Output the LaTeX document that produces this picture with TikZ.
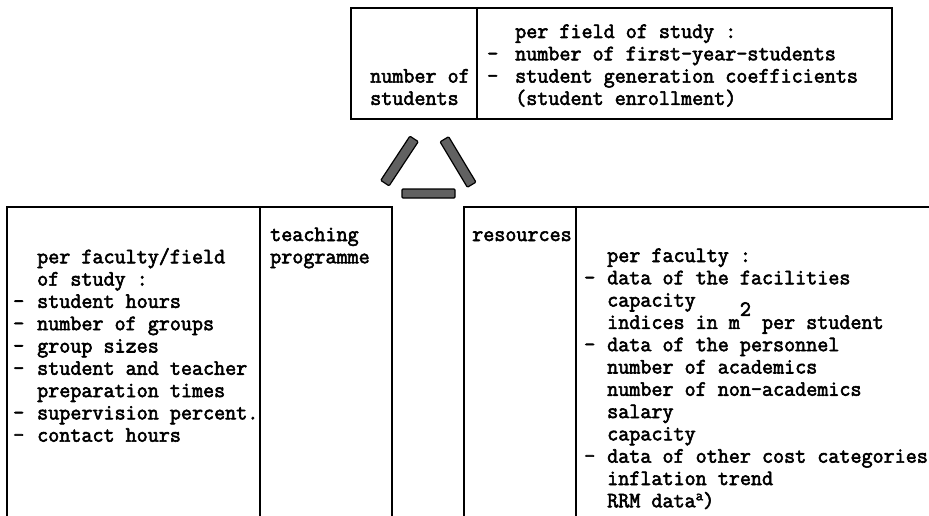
\documentclass[tikz,border=0pt]{standalone}
\usepackage{fontspec}
\newfontfamily\tw[FakeStretch=0.976, FakeBold=2.6]{Latin Modern Mono}
\newcommand{\dsh}[1]{\makebox[#1][l]{-}}
\begin{document}
\begin{tikzpicture}[x=1pt,y=-1pt,
  txt/.style={anchor=base west, inner sep=0pt, font=\tw\fontsize{22}{22.3}\selectfont},
  frame/.style={line width=2.5pt, line cap=rect},
  bar/.style={draw=black, line width=1.2pt, fill=black!62, rounded corners=1pt, minimum width=53pt, minimum height=10pt, inner sep=0pt}]
\useasboundingbox (0,0) rectangle (929,516);
% top box
\draw[frame] (351,8) rectangle (892,119);
\draw[frame] (477,8) -- (477,119);
\node[txt] (ns1) at (370,82.6) {number of};
\node[txt] (ns2) at (370,104.9) {students};
\node[txt] (t1) at (515,38) {per field of study :};
\node[txt] (t2) at (487,60.3) {\dsh{28pt}number of first-year-students};
\node[txt] (t3) at (487,82.6) {\dsh{28pt}student generation coefficients};
\node[txt] (t4) at (515,104.9) {(student enrollment)};
% triangle bars
\node[bar, rotate=56.6] (barL) at (399.5,161) {};
\node[bar, rotate=-59] (barR) at (458,162) {};
\node[bar, minimum width=53pt, minimum height=9pt] (barB) at (428.5,193.5) {};
% lower left boxes
\draw[frame] (7,516) -- (7,207) -- (392,207) -- (392,516);
\draw[frame] (260,207) -- (260,516);
\node[txt] (l1) at (37,263.3) {per faculty/field};
\node[txt] (l2) at (37,285.6) {of study :};
\node[txt] (l3) at (13,307.9) {\dsh{24pt}student hours};
\node[txt] (l4) at (13,330.2) {\dsh{24pt}number of groups};
\node[txt] (l5) at (13,352.5) {\dsh{24pt}group sizes};
\node[txt] (l6) at (13,374.8) {\dsh{24pt}student and teacher};
\node[txt] (l7) at (37,397.1) {preparation times};
\node[txt] (l8) at (13,419.4) {\dsh{24pt}supervision percent.};
\node[txt] (l9) at (13,441.7) {\dsh{24pt}contact hours};
\node[txt] (tp1) at (270,241) {teaching};
\node[txt] (tp2) at (270,263.3) {programme};
% lower right boxes
\draw[frame] (464,516) -- (464,207) -- (929,207);
\draw[frame] (576,207) -- (576,516);
\node[txt] (rs) at (472,241) {resources};
\node[txt] (r1) at (607,262) {per faculty :};
\node[txt] (r2) at (584,284.3) {\dsh{23pt}data of the facilities};
\node[txt] (r3) at (607,306.6) {capacity};
\node[txt] (r4) at (607,328.9) {indices in m\raisebox{13pt}{2} per student};
\node[txt] (r5) at (584,351.2) {\dsh{23pt}data of the personnel};
\node[txt] (r6) at (607,373.5) {number of academics};
\node[txt] (r7) at (607,395.8) {number of non-academics};
\node[txt] (r8) at (607,418.1) {salary};
\node[txt] (r9) at (607,440.4) {capacity};
\node[txt] (r10) at (584,462.7) {\dsh{23pt}data of other cost categories};
\node[txt] (r11) at (607,485) {inflation trend};
\node[txt] (r12) at (607,507.3) {RRM data\raisebox{7pt}{\fontsize{15}{15}\selectfont a})};
\end{tikzpicture}
\end{document}
